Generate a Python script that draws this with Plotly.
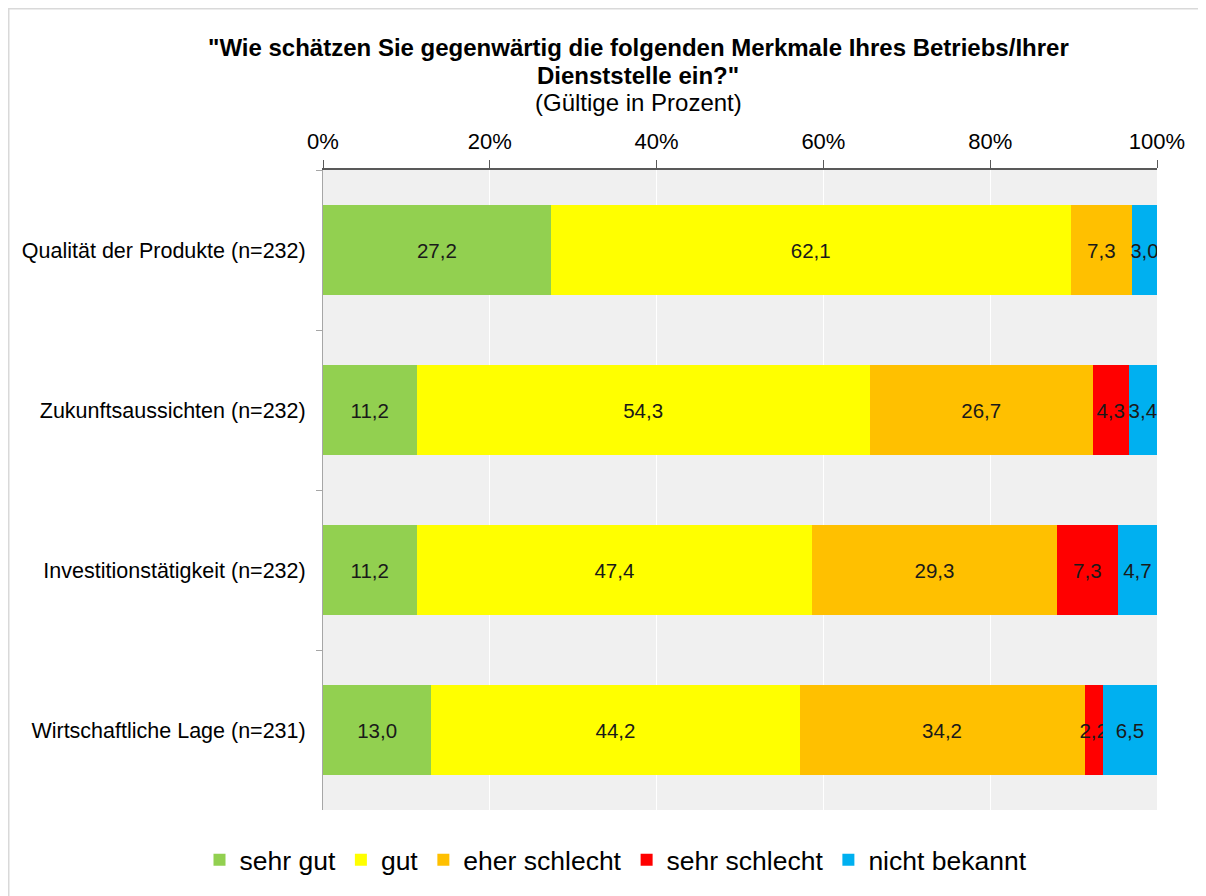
import plotly.graph_objects as go

categories = ["Qualität der Produkte (n=232)", "Zukunftsaussichten (n=232)",
              "Investitionstätigkeit (n=232)", "Wirtschaftliche Lage (n=231)"]
series_names = ["sehr gut", "gut", "eher schlecht", "sehr schlecht", "nicht bekannt"]
sehr_gut = [27.2, 11.2, 11.2, 13.0]
gut = [62.1, 54.3, 47.4, 44.2]
eher_schlecht = [7.3, 26.7, 29.3, 34.2]
sehr_schlecht = [0, 4.3, 7.3, 2.2]
nicht_bekannt = [3.0, 3.4, 4.7, 6.5]
colors = ["#92d050", "#ffff00", "#ffc000", "#ff0000", "#00b0f0"]
tick_vals = [0, 20, 40, 60, 80, 100]
tick_text = ["0%", "20%", "40%", "60%", "80%", "100%"]

all_series = [sehr_gut, gut, eher_schlecht, sehr_schlecht, nicht_bekannt]
totals = [sum(s[i] for s in all_series) for i in range(len(categories))]

W, H = 1206, 896
# figure-pixel coordinates (page body offsets the figure by 8px)
L, R, T, B = 315, 1149, 162, 802

fig = go.Figure()
for name, vals, col in zip(series_names, all_series, colors):
    texts = [f"{v:.1f}".replace(".", ",") if v > 0 else "" for v in vals]
    shares = [v / t * 100 for v, t in zip(vals, totals)]  # 100% stacked
    fig.add_trace(go.Bar(
        y=categories, x=shares, name=name, orientation="h",
        marker=dict(color=col, line=dict(width=0)),
        text=texts, textposition="inside", insidetextanchor="middle", textangle=0,
        textfont=dict(family="Liberation Sans, Arial", size=20.5, color="#1a1a1a"),
        hoverinfo="skip",
    ))

fig.update_layout(
    width=W, height=H, barmode="stack", bargap=0.44,
    margin=dict(l=L, r=W - R, t=T, b=H - B),
    paper_bgcolor="white", plot_bgcolor="#f0f0f0",
    font=dict(family="Liberation Sans, Arial", color="#000000"),
    uniformtext=dict(minsize=20.5, mode="show"),
    separators=",.",
    legend=dict(orientation="h", x=(608 - L) / (R - L), xanchor="center", y=-0.078, yanchor="middle",
                font=dict(size=26.5), traceorder="normal", itemwidth=30,
                bgcolor="rgba(0,0,0,0)"),
    showlegend=True,
)
fig.update_xaxes(
    side="top", range=[0, 100], tickvals=tick_vals, ticktext=tick_text,
    showgrid=True, gridcolor="white", gridwidth=1,
    showline=True, linecolor="#595959", linewidth=2,
    ticks="outside", ticklen=8, tickcolor="#595959",
    tickfont=dict(size=22), zeroline=False, ticklabelstandoff=2,
)
fig.update_yaxes(
    categoryorder="array", categoryarray=categories, autorange="reversed",
    showline=True, linecolor="#a6a6a6", linewidth=1,
    ticks="outside", tickson="boundaries", ticklen=6, tickcolor="#a6a6a6",
    tickfont=dict(size=21.5), showgrid=False, ticklabelstandoff=12,
)

pw, ph = R - L, B - T
def px(xp): return (xp - L) / pw
def py(yp): return (B - yp) / ph

fig.add_annotation(xref="paper", yref="paper", x=px(630), y=py(39), yanchor="middle",
                   text="<b>\"Wie schätzen Sie gegenwärtig die folgenden Merkmale Ihres Betriebs/Ihrer</b>",
                   showarrow=False, font=dict(size=24), align="center")
fig.add_annotation(xref="paper", yref="paper", x=px(630), y=py(67), yanchor="middle",
                   text="<b>Dienststelle ein?\"</b>",
                   showarrow=False, font=dict(size=24), align="center")
fig.add_annotation(xref="paper", yref="paper", x=px(630), y=py(94), yanchor="middle",
                   text="(Gültige in Prozent)", showarrow=False, font=dict(size=24))
fig.add_shape(type="rect", xref="paper", yref="paper", x0=px(0), x1=px(1210), y0=py(0), y1=py(900),
              line=dict(color="#d9d9d9", width=3), layer="below")

fig.write_html("out.html")
